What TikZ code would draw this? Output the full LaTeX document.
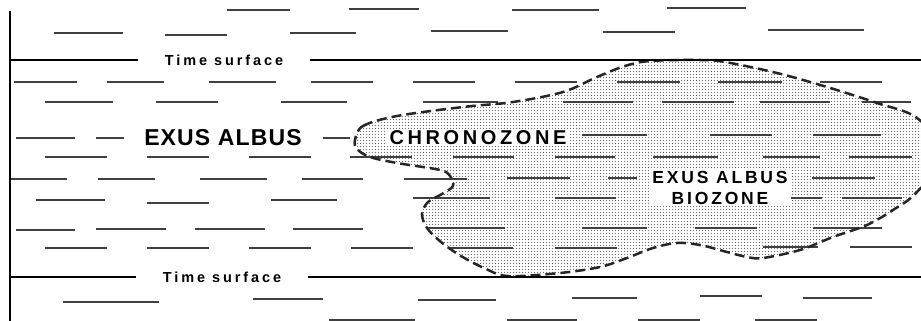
\documentclass[tikz,border=0pt]{standalone}
\usepackage{fontspec}
\usepackage{tikz}
\setmainfont{Liberation Sans}
\newfontfamily\spacedsans[LetterSpace=16]{Liberation Sans}
\usetikzlibrary{patterns.meta}
\definecolor{BedGray}{HTML}{404040}
\definecolor{DotGray}{HTML}{707070}

\tikzdeclarepattern{name=stipple, type=uncolored,
  bounding box={(0pt,0pt) and (3.4pt,3.4pt)}, tile size={(3.4pt,3.4pt)},
  code={\fill (1.7pt,1.7pt) circle (0.75pt);}}

% outline of the biozone, in pixel units
\newcommand{\zoneoutline}{plot[smooth cycle, tension=0.55] coordinates {
  (355,140) (363,126) (397,116) (463,107) (513,102) (563,92) (597,77)
  (625,66) (650,61) (700,60) (725,62) (777,73) (827,87) (877,103)
  (917,118) (945,155) (916,193) (893,210) (867,225) (833,237) (800,250)
  (763,258) (747,257) (727,252) (700,245) (677,243) (653,248) (627,258)
  (600,267) (560,273) (508,276) (484,268) (461,256) (441,242) (427,228)
  (422,214) (428,202) (442,194) (453,186) (450,176) (440,170) (397,163)
  (370,157) (357,149)}}

\begin{document}
\begin{tikzpicture}[x=1pt,y=-1pt,
    bed/.style={draw=BedGray, line width=1.6pt},
    surface/.style={draw=black, line width=2.4pt},
    zoneedge/.style={draw=black!85, line width=2.5pt, dash pattern=on 10pt off 5pt},
    surflabel/.style={font=\spacedsans\bfseries\addfontfeatures{LetterSpace=20}\fontsize{14.5}{16}\selectfont,
                      inner xsep=27pt, inner ysep=2pt},
    zonelabel/.style={font=\spacedsans\bfseries, fill=white, inner xsep=3pt, inner ysep=1pt}]
  \useasboundingbox (0,0) rectangle (921,321);
  \clip (0,0) rectangle (921,321);

  % stippled biozone
  \path[pattern={stipple}, pattern color=DotGray] \zoneoutline;

  % bedding dashes: x1/x2/y
  \foreach \xa/\xb/\y in {227/290/10, 349/419/9, 512/599/10, 667/746/8,
      54/123/33, 165/227/35, 290/356/33, 431/508/31, 603/675/32, 768/864/30,
      14/77/82, 107/164/82, 209/276/82, 311/373/82, 413/475/82, 515/577/82,
      617/680/82, 718/782/82, 820/882/82,
      45/113/102, 156/218/102, 281/347/102, 423/498/102, 563/633/102,
      662/734/102, 760/830/102, 862/911/102,
      16/75/138, 96/124/138, 323/350/138, 582/647/135, 710/772/135, 813/881/135,
      45/107/157, 147/209/157, 249/311/157, 350/412/157, 453/514/157,
      555/615/157, 653/718/157, 763/820/157, 849/912/157,
      10/67/179, 98/155/179, 200/267/179, 302/363/179, 404/467/179,
      507/570/178, 608/637/178, 812/875/178,
      36/105/200, 147/209/203, 271/337/200, 413/490/198, 555/616/198,
      782/822/198, 842/902/198,
      16/75/230, 96/166/229, 195/265/229, 293/363/229, 428/505/228,
      582/647/228, 695/757/228, 813/882/228,
      45/107/248, 147/209/248, 249/311/248, 351/413/248, 450/513/248,
      555/617/248, 763/818/247, 850/912/247,
      63/159/302, 253/323/299, 418/496/300, 572/637/298, 700/762/296, 803/872/298,
      329/415/320, 507/577/320, 638/700/320, 755/817/320}
    \draw[bed] (\xa,\y) -- (\xb,\y);

  \draw[zoneedge] \zoneoutline;

  % section edge and time surfaces
  \coordinate (secttop) at (10,11);
  \coordinate (sectbot) at (10,321);
  \coordinate (tsleftA) at (10,60);
  \coordinate (tsrightA) at (921,60);
  \coordinate (tsleftB) at (10,277);
  \coordinate (tsrightB) at (921,277);
  \draw[line width=1.6pt] (secttop) -- (sectbot);

  \node[surflabel] (tsA) at (224,60) {Time surface};
  \node[surflabel] (tsB) at (222,277) {Time surface};
  \draw[surface] (tsleftA) -- (tsA.west);
  \draw[surface] (tsA.east) -- (tsrightA);
  \draw[surface] (tsleftB) -- (tsB.west);
  \draw[surface] (tsB.east) -- (tsrightB);

  % zone names
  \node[font=\spacedsans\bfseries\addfontfeatures{LetterSpace=5}\fontsize{23}{26}\selectfont,
        inner sep=1pt] (chrononame) at (223,138) {EXUS ALBUS};
  \node[zonelabel, font=\spacedsans\bfseries\addfontfeatures{LetterSpace=18}\fontsize{20}{22}\selectfont]
        (chrono) at (478,138) {CHRONOZONE};
  \node[zonelabel, align=center, font=\spacedsans\bfseries\fontsize{17.5}{21}\selectfont]
        (biozone) at (720,188) {EXUS ALBUS\\BIOZONE};
\end{tikzpicture}
\end{document}
